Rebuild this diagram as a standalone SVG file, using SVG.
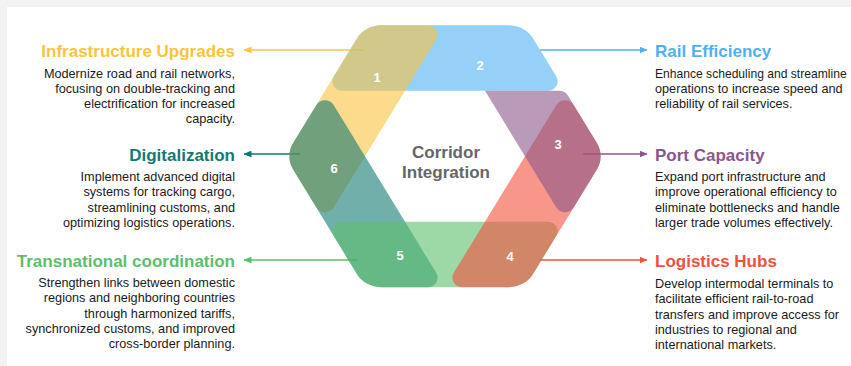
<svg xmlns="http://www.w3.org/2000/svg" xmlns:xlink="http://www.w3.org/1999/xlink" width="851" height="366" viewBox="0 0 851 366">
<style>
.band{fill-opacity:0.6;stroke:none}
.num{font-family:"Liberation Sans",Arial,sans-serif;font-weight:bold;font-size:13px;fill:#ffffff;text-anchor:middle}
.title{font-family:"Liberation Sans",Arial,sans-serif;font-weight:bold;font-size:17px}
.desc{font-family:"Liberation Sans",Arial,sans-serif;font-size:12.7px;fill:#1a1a1a}
.l{text-anchor:end}
.r{text-anchor:start}
.conn{stroke-width:1.6;fill:none}
.center{font-family:"Liberation Sans",Arial,sans-serif;font-weight:bold;font-size:17px;fill:#666666;text-anchor:middle}
</style>
<defs>
<path id="band" d="M -63.83,-138.56 L 63.83,-138.56 A 28 28 0 0 1 88.08,-124.56 L 111.34,-84.28 A 10 10 0 0 1 102.68,-69.28 L -102.68,-69.28 A 10 10 0 0 1 -111.34,-84.28 L -88.08,-124.56 A 28 28 0 0 1 -63.83,-138.56 Z"/>
<path id="bandcut" d="M 5.77,-138.56 L 63.83,-138.56 A 28 28 0 0 1 88.08,-124.56 L 111.34,-84.28 A 10 10 0 0 1 102.68,-69.28 L -40,-69.28 L -2.89,-133.56 A 10 10 0 0 1 5.77,-138.56 Z"/>
<marker id="aY" markerUnits="userSpaceOnUse" markerWidth="8" markerHeight="7" refX="7.5" refY="3.5" orient="auto"><path d="M0,0 L8,3.5 L0,7 z" fill="#fcc340"/></marker>
<marker id="aB" markerUnits="userSpaceOnUse" markerWidth="8" markerHeight="7" refX="7.5" refY="3.5" orient="auto"><path d="M0,0 L8,3.5 L0,7 z" fill="#4fb0f5"/></marker>
<marker id="aP" markerUnits="userSpaceOnUse" markerWidth="8" markerHeight="7" refX="7.5" refY="3.5" orient="auto"><path d="M0,0 L8,3.5 L0,7 z" fill="#8b578b"/></marker>
<marker id="aR" markerUnits="userSpaceOnUse" markerWidth="8" markerHeight="7" refX="7.5" refY="3.5" orient="auto"><path d="M0,0 L8,3.5 L0,7 z" fill="#f4503c"/></marker>
<marker id="aG" markerUnits="userSpaceOnUse" markerWidth="8" markerHeight="7" refX="7.5" refY="3.5" orient="auto"><path d="M0,0 L8,3.5 L0,7 z" fill="#5cbf6c"/></marker>
<marker id="aT" markerUnits="userSpaceOnUse" markerWidth="8" markerHeight="7" refX="7.5" refY="3.5" orient="auto"><path d="M0,0 L8,3.5 L0,7 z" fill="#137a72"/></marker>
</defs>
<rect x="0" y="0" width="851" height="366" fill="#f2f2f2"/>
<rect x="7" y="7" width="844" height="359" fill="#ffffff"/>

<g id="connectors">
<line class="conn" x1="363" y1="50" x2="244" y2="50" stroke="#fcc340" marker-end="url(#aY)"/>
<line class="conn" x1="540" y1="50" x2="647" y2="50" stroke="#4fb0f5" marker-end="url(#aB)"/>
<line class="conn" x1="583" y1="154" x2="647" y2="154" stroke="#8b578b" marker-end="url(#aP)"/>
<line class="conn" x1="540" y1="260" x2="647" y2="260" stroke="#f4503c" marker-end="url(#aR)"/>
<line class="conn" x1="357" y1="260" x2="244" y2="260" stroke="#5cbf6c" marker-end="url(#aG)"/>
<line class="conn" x1="300" y1="154" x2="244" y2="154" stroke="#137a72" marker-end="url(#aT)"/>
</g>

<g id="node-2">
<use xlink:href="#band" href="#band" class="band" fill="#4fb0f5" transform="translate(445,156.2) scale(1,0.945)"/>
<text class="num" x="480" y="70">2</text>
<text class="title r" x="655" y="57" fill="#4fb0f5">Rail Efficiency</text>
<text class="desc r" x="655" y="77.5" style="font-size:12.1px">Enhance scheduling and streamline</text>
<text class="desc r" x="655" y="92.8">operations to increase speed and</text>
<text class="desc r" x="655" y="108.1">reliability of rail services.</text>
</g>

<g id="node-1">
<use xlink:href="#band" href="#band" class="band" fill="#fcc340" transform="translate(445,156.2) scale(1,0.945) rotate(-60)"/>
<text class="num" x="377" y="81.5">1</text>
<text class="title l" x="235" y="57" fill="#fcc340">Infrastructure Upgrades</text>
<text class="desc l" x="235" y="77.5">Modernize road and rail networks,</text>
<text class="desc l" x="235" y="92.8">focusing on double-tracking and</text>
<text class="desc l" x="235" y="108.1">electrification for increased</text>
<text class="desc l" x="235" y="123.4">capacity.</text>
</g>

<g id="node-6">
<use xlink:href="#band" href="#band" class="band" fill="#137a72" transform="translate(445,156.2) scale(1,0.945) rotate(-120)"/>
<text class="num" x="334" y="173">6</text>
<text class="title l" x="235" y="161" fill="#137a72">Digitalization</text>
<text class="desc l" x="235" y="181">Implement advanced digital</text>
<text class="desc l" x="235" y="196.3">systems for tracking cargo,</text>
<text class="desc l" x="235" y="211.6">streamlining customs, and</text>
<text class="desc l" x="235" y="226.9">optimizing logistics operations.</text>
</g>

<g id="node-5">
<use xlink:href="#band" href="#band" class="band" fill="#5cbf6c" transform="translate(445,156.2) scale(1,0.945) rotate(180)"/>
<text class="num" x="400" y="260">5</text>
<text class="title l" x="235" y="267" fill="#5cbf6c">Transnational coordination</text>
<text class="desc l" x="235" y="287">Strengthen links between domestic</text>
<text class="desc l" x="235" y="302.3">regions and neighboring countries</text>
<text class="desc l" x="235" y="317.6">through harmonized tariffs,</text>
<text class="desc l" x="235" y="332.9">synchronized customs, and improved</text>
<text class="desc l" x="235" y="348.2">cross-border planning.</text>
</g>

<g id="node-4">
<use xlink:href="#band" href="#band" class="band" fill="#f4503c" transform="translate(445,156.2) scale(1,0.945) rotate(120)"/>
<text class="num" x="510" y="260.5">4</text>
<text class="title r" x="655" y="267" fill="#f4503c">Logistics Hubs</text>
<text class="desc r" x="655" y="288">Develop intermodal terminals to</text>
<text class="desc r" x="655" y="303.3">facilitate efficient rail-to-road</text>
<text class="desc r" x="655" y="318.6">transfers and improve access for</text>
<text class="desc r" x="655" y="333.9">industries to regional and</text>
<text class="desc r" x="655" y="349.2">international markets.</text>
</g>

<g id="node-3">
<use xlink:href="#bandcut" href="#bandcut" class="band" fill="#8b578b" transform="translate(445,156.2) scale(1,0.945) rotate(60)"/>
<text class="num" x="558" y="148.5">3</text>
<text class="title r" x="655" y="161" fill="#8b578b">Port Capacity</text>
<text class="desc r" x="655" y="181">Expand port infrastructure and</text>
<text class="desc r" x="655" y="196.3">improve operational efficiency to</text>
<text class="desc r" x="655" y="211.6">eliminate bottlenecks and handle</text>
<text class="desc r" x="655" y="226.9">larger trade volumes effectively.</text>
</g>

<g id="center">
<text class="center" x="446" y="158">Corridor</text>
<text class="center" x="446" y="178">Integration</text>
</g>
</svg>
